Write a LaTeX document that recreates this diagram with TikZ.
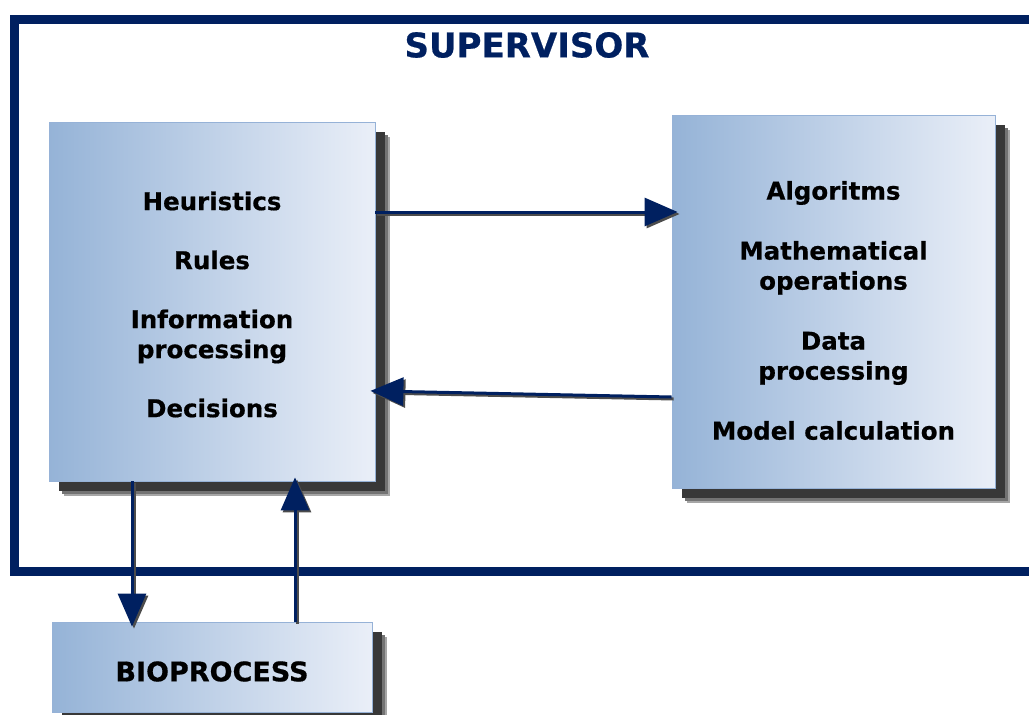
\documentclass[tikz,border=0pt]{standalone}
\usepackage{fontspec}
\setmainfont{DejaVu Sans}[BoldFeatures={FakeBold=0.6}]
\usetikzlibrary{arrows.meta,shadows}

\definecolor{navy}{RGB}{0,32,96}
\definecolor{boxleft}{RGB}{149,179,215}
\definecolor{boxright}{RGB}{234,239,248}
\definecolor{boxedge}{RGB}{150,178,215}

\tikzset{
  panel/.style={draw=boxedge, line width=0.8pt, left color=boxleft, right color=boxright,
    drop shadow={shadow xshift=15pt, shadow yshift=-15pt, fill=black!35, opacity=1},
    drop shadow={shadow xshift=13pt, shadow yshift=-13pt, fill=black!55, opacity=1},
    drop shadow={shadow xshift=10pt, shadow yshift=-10pt, fill=black!78, opacity=1},
    inner sep=0pt},
  paneltext/.style={font=\bfseries\fontsize{24.5}{30}\selectfont, align=center},
  flow/.style={navy, line width=3pt, -{Triangle[length=33pt,width=28pt]}, shorten >=#1,
    preaction={draw=black!70, line width=3pt, -{Triangle[length=33pt,width=28pt]},
      shorten >=#1, transform canvas={shift={(2pt,-2pt)}}}},
}

\begin{document}
\begin{tikzpicture}[x=1pt,y=-1pt]
  \useasboundingbox (0,0) rectangle (1029,715);
  \clip (0,0) rectangle (1029,715);
  % supervisor frame, open to the right
  \draw[navy, line width=9pt] (1045,19) -- (14,19) -- (14,571) -- (1045,571);
  \node[text=navy, font=\bfseries\fontsize{34}{40}\selectfont] (title) at (527,45) {SUPERVISOR};

  \node[panel, minimum width=326pt, minimum height=359pt] (ctrl) at (212,301.5) {};
  \node[panel, minimum width=323pt, minimum height=373pt] (alg) at (833.5,301.5) {};
  \node[panel, minimum width=320pt, minimum height=90pt] (bio) at (212,667) {};

  \node[paneltext] (ctrltext) at ([yshift=-3pt]ctrl.center)
    {Heuristics\\[29pt] Rules\\[29pt] Information\\ processing\\[29pt] Decisions};
  \node[paneltext] (algtext) at ([yshift=-9pt]alg.center)
    {Algoritms\\[30pt] Mathematical\\ operations\\[30pt] Data\\ processing\\[30pt] Model calculation};
  \node[font=\bfseries\fontsize{27}{32}\selectfont] (biotext) at ([yshift=-4.5pt]bio.center) {BIOPROCESS};

  \draw[flow=-6pt] ([yshift=89.5pt]ctrl.east) -- ([yshift=89.5pt]alg.west);
  \draw[flow=-5pt] ([yshift=-95.5pt]alg.west) -- ([yshift=-89.5pt]ctrl.east);
  \draw[flow=-5pt] ([xshift=-80pt]ctrl.south) -- ([xshift=-80pt]bio.north);
  \draw[flow=-4pt] ([xshift=83pt]bio.north) -- ([xshift=83pt]ctrl.south);
\end{tikzpicture}
\end{document}
